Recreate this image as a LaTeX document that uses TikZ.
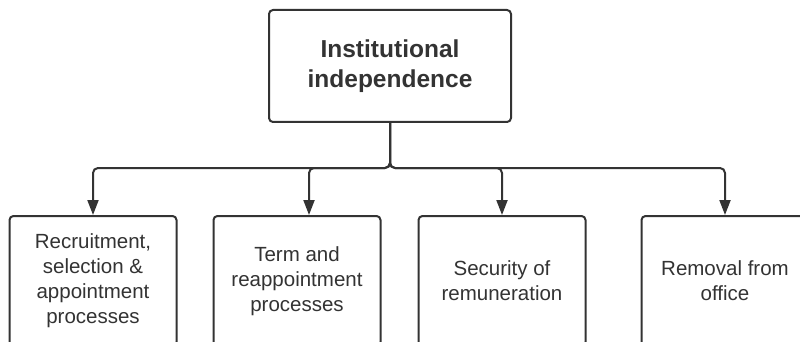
\documentclass[tikz,border=0pt]{standalone}
\usepackage{fontspec}
\setmainfont{Liberation Sans}
\usetikzlibrary{arrows.meta}
\definecolor{ink}{HTML}{333333}
\begin{document}
\begin{tikzpicture}[x=1pt,y=-1pt,
  boxstyle/.style={draw=ink, line width=2pt, rounded corners=4pt, fill=white,
    text=ink, align=center, inner sep=0pt},
  topbox/.style={boxstyle, minimum width=242pt, minimum height=112pt,
    font=\fontsize{24.5}{30}\selectfont\bfseries},
  leafbox/.style={boxstyle, minimum width=167pt, minimum height=130pt,
    font=\fontsize{20.5}{25}\selectfont},
  conn/.style={draw=ink, line width=2pt, rounded corners=5pt,
    -{Triangle[length=15pt,width=11pt]}}]
\useasboundingbox (0,0) rectangle (800,342);
\clip (0,0) rectangle (800,342);
\fill[white] (0,0) rectangle (800,342);
\node[topbox] (top) at (390,66) {Institutional\\independence};
\coordinate (hub) at (390,168);
\node[leafbox] (b1) at (93,281) {Recruitment,\\selection \&\\appointment\\processes};
\node[leafbox] (b2) at (297,281) {Term and\\reappointment\\processes};
\node[leafbox] (b3) at (502,281) {Security of\\remuneration};
\node[leafbox] (b4) at (725,281) {Removal from\\office};
\draw[conn] (top.south) -- (hub) -| (b1.north);
\draw[conn] (top.south) -- (hub) -| ([xshift=12pt]b2.north);
\draw[conn] (top.south) -- (hub) -| (b3.north);
\draw[conn] (top.south) -- (hub) -| (b4.north);
\end{tikzpicture}
\end{document}
